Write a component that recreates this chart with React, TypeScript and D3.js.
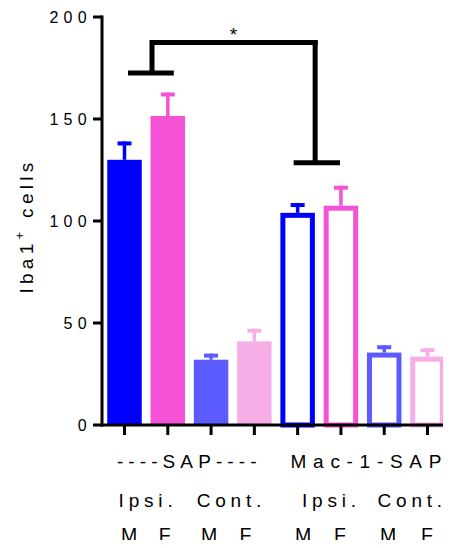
import React from "react";
import * as d3 from "d3";

const groups = ["SAP Ipsi. M", "SAP Ipsi. F", "SAP Cont. M", "SAP Cont. F", "Mac Ipsi. M", "Mac Ipsi. F", "Mac Cont. M", "Mac Cont. F"];
const means = [130, 151.5, 32, 41, 104, 107.5, 35.5, 33.5];
const errors = [9, 11.5, 3, 6.2, 4.8, 9.8, 3.6, 4.1];
const colors = ["#0000ff", "#f652d6", "#5b5bff", "#f7aee7", "#0000ff", "#f652d6", "#5b5bff", "#f7aee7"];
const filled = [true, true, true, true, false, false, false, false];
const yTicks = [0, 50, 100, 150, 200];
const row1 = [
  { text: "----SAP----", from: 0, to: 3, dx: -2.7, ls: 5.1 },
  { text: "Mac-1-SAP", from: 4, to: 7, dx: 3.4, ls: 6.7 },
];
const row2 = [
  { text: "Ipsi.", from: 0, to: 1, dx: -0.5 },
  { text: "Cont.", from: 2, to: 3, dx: -3.7 },
  { text: "Ipsi.", from: 4, to: 5, dx: 9.7 },
  { text: "Cont.", from: 6, to: 7, dx: 4 },
];
const row3 = ["M", "F", "M", "F", "M", "F", "M", "F"];
const row3dx = [4.5, -3, -2, -9, 5.5, -1, 4, -0.5];

const font = "'Liberation Sans', Arial, Helvetica, sans-serif";

export default function App() {
  const width = 451;
  const height = 548;
  const axisX = 102;
  const y = d3.scaleLinear().domain([0, 200]).range([425, 17]);
  const x = d3.scalePoint<number>().domain(d3.range(groups.length)).range([124.5, 427.5]);
  const px = (i: number) => x(i) as number;
  const barW = 34.5;
  const sw = 5;

  // bracket: SAP Ipsi pair vs Mac-1-SAP Ipsi pair
  const bracketTop = y(187.5);
  const leftLow = y(172.5);
  const rightLow = y(128.5);
  const leftStem = px(0) + 27.5;
  const rightStem = px(4) + 17.5;

  return (
    <div style={{ margin: -8 }}>
      <svg width={width} height={height} style={{ display: "block", background: "#fff" }}>
        {/* bars */}
        {means.map((m, i) => {
          const cx = px(i);
          const top = y(m);
          const c = colors[i];
          const capY = y(m + errors[i]);
          return (
            <g key={i}>
              {filled[i] ? (
                <rect x={cx - barW / 2} y={top} width={barW} height={425 - top} fill={c} />
              ) : (
                <rect
                  x={cx - barW / 2 + sw / 2}
                  y={top + sw / 2}
                  width={barW - sw}
                  height={425 - top - sw / 2}
                  fill="none"
                  stroke={c}
                  strokeWidth={sw}
                />
              )}
              <line x1={cx} x2={cx} y1={top} y2={capY} stroke={c} strokeWidth={3.5} />
              <line x1={cx - 7} x2={cx + 7} y1={capY + 2} y2={capY + 2} stroke={c} strokeWidth={4} />
            </g>
          );
        })}

        {/* axes */}
        <line x1={axisX} x2={axisX} y1={y(200) - 1.5} y2={426.5} stroke="#000" strokeWidth={3} />
        <line x1={axisX - 1.5} x2={448} y1={425} y2={425} stroke="#000" strokeWidth={3} />
        {yTicks.map((t) => (
          <g key={t}>
            <line x1={axisX - 9} x2={axisX} y1={y(t)} y2={y(t)} stroke="#000" strokeWidth={3} />
            <text
              x={92}
              y={y(t)}
              dy="0.36em"
              textAnchor="end"
              fontFamily={font}
              fontSize={16}
              letterSpacing={5.3}
              fill="#000"
            >
              {t}
            </text>
          </g>
        ))}
        {groups.map((g, i) => (
          <line key={g} x1={px(i)} x2={px(i)} y1={425} y2={435} stroke="#000" strokeWidth={3} />
        ))}

        {/* y label */}
        <text
          transform={`translate(33,226) rotate(-90)`}
          textAnchor="middle"
          fontFamily={font}
          fontSize={19}
          letterSpacing={4.3}
          fill="#000"
        >
          Iba1<tspan dy={-9} fontSize={13}>+</tspan>
          <tspan dy={9}> cells</tspan>
        </text>

        {/* x labels */}
        {row1.map((r) => (
          <text
            key={r.text}
            x={(px(r.from) + px(r.to)) / 2 + r.dx + r.ls / 2}
            y={467.5}
            textAnchor="middle"
            fontFamily={font}
            fontSize={19}
            letterSpacing={r.ls}
            fill="#000"
          >
            {r.text}
          </text>
        ))}
        {row2.map((r, i) => (
          <text
            key={i}
            x={(px(r.from) + px(r.to)) / 2 + r.dx + 2.4}
            y={506.5}
            textAnchor="middle"
            fontFamily={font}
            fontSize={19}
            letterSpacing={4.8}
            fill="#000"
          >
            {r.text}
          </text>
        ))}
        {row3.map((r, i) => (
          <text
            key={i}
            x={px(i) + row3dx[i]}
            y={541.5}
            textAnchor="middle"
            fontFamily={font}
            fontSize={19.5}
            fill="#000"
          >
            {r}
          </text>
        ))}

        {/* significance bracket */}
        <g stroke="#000" strokeWidth={5} fill="none">
          <line x1={px(0) + 3.5} x2={px(1) + 6} y1={leftLow} y2={leftLow} />
          <line x1={leftStem} x2={leftStem} y1={leftLow} y2={bracketTop - 2.5} />
          <line x1={leftStem} x2={rightStem + 2.5} y1={bracketTop} y2={bracketTop} />
          <line x1={rightStem} x2={rightStem} y1={bracketTop - 2.5} y2={rightLow} />
          <line x1={px(4) - 4} x2={px(5) - 1} y1={rightLow} y2={rightLow} />
        </g>
        <text x={233.5} y={41} textAnchor="middle" fontFamily={font} fontSize={19} fill="#000">
          *
        </text>
      </svg>
    </div>
  );
}
